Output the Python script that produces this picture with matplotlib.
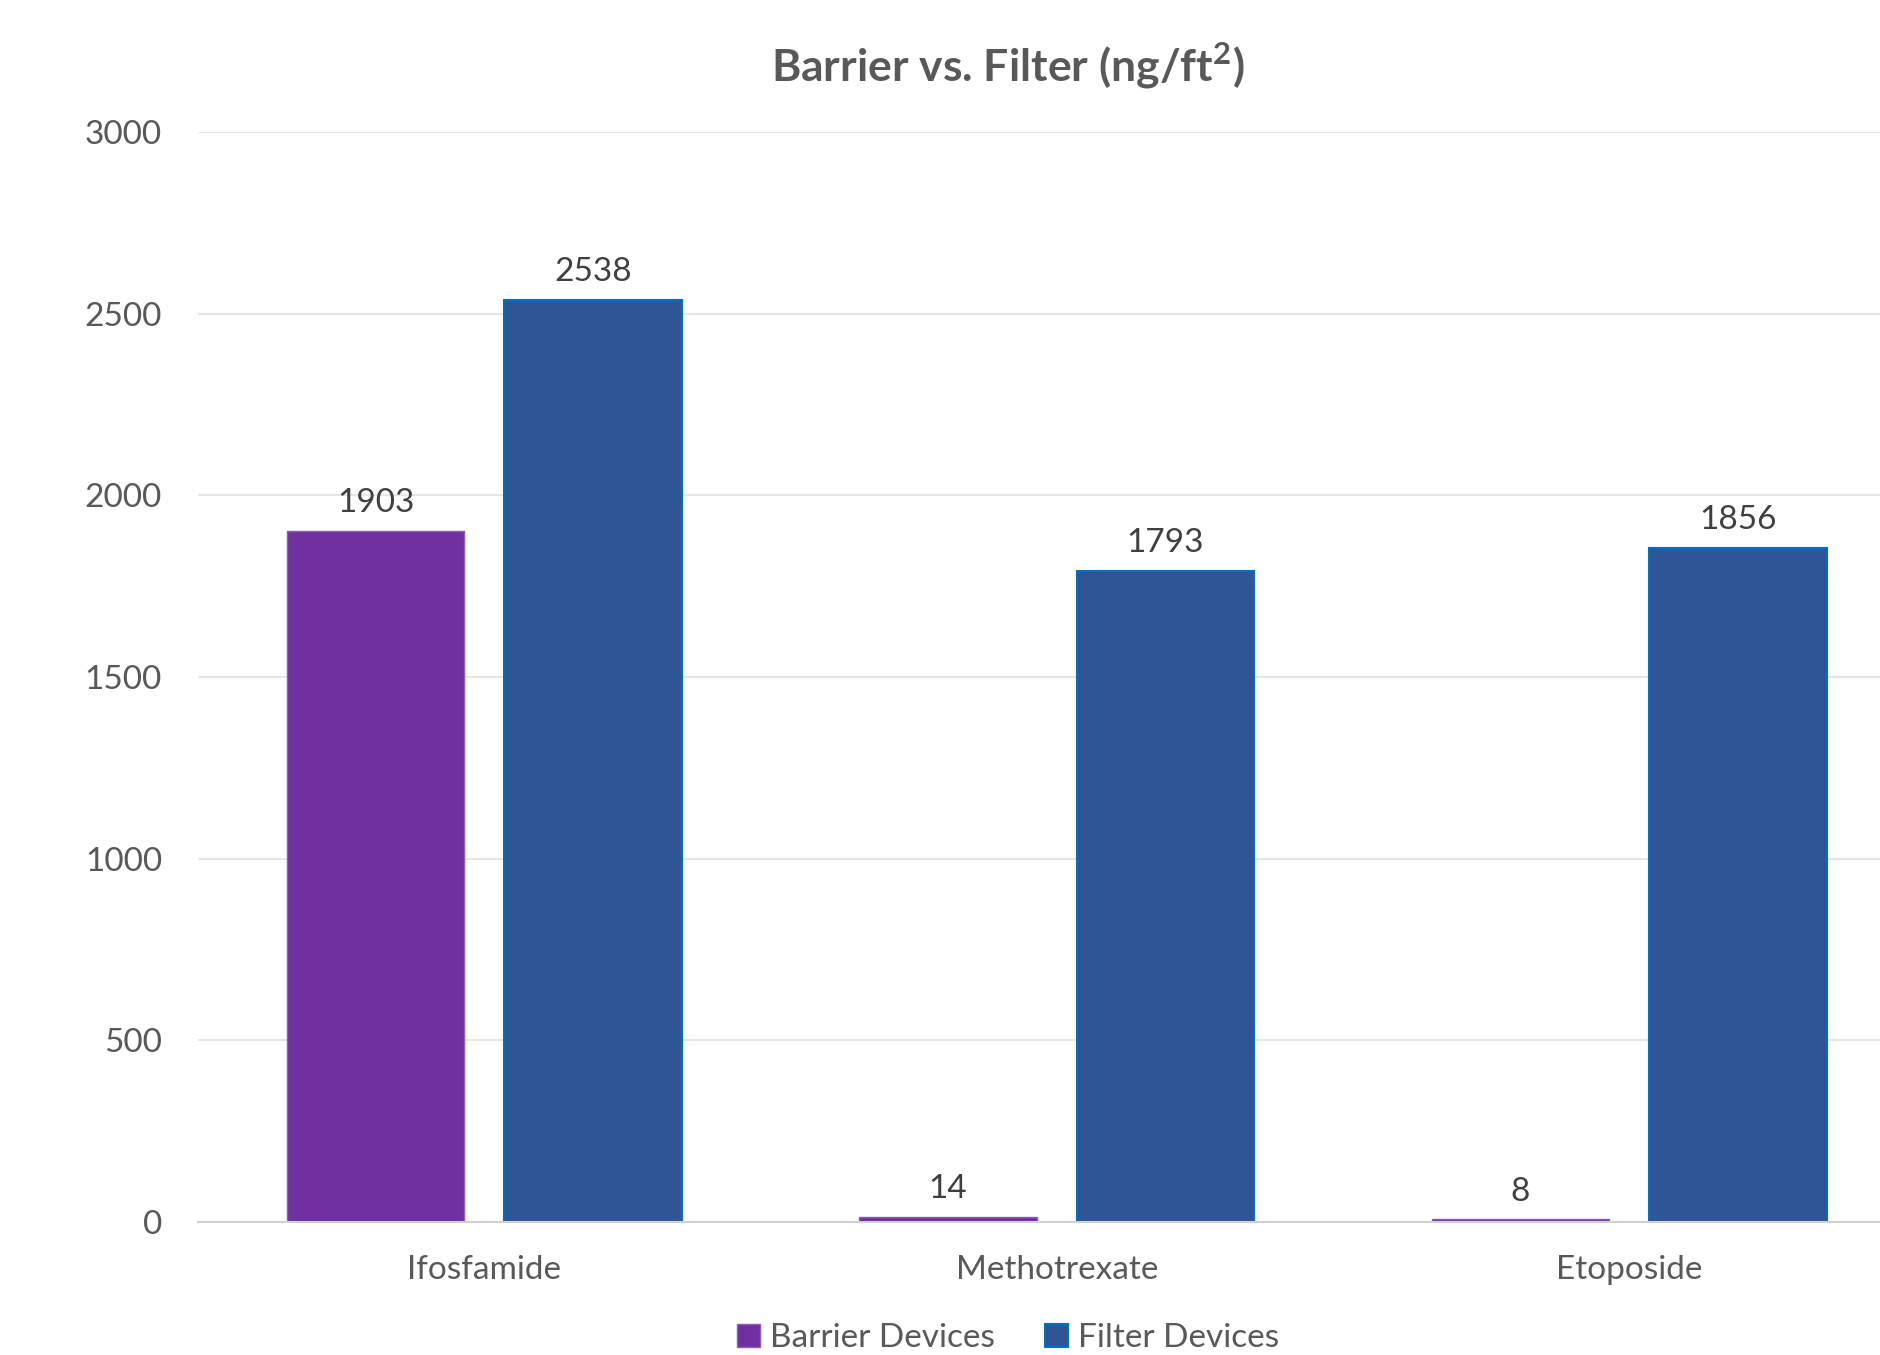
import numpy as np
import matplotlib.pyplot as plt

plt.rcParams['font.family'] = ['Lato', 'DejaVu Sans']

drugs = ['Ifosfamide', 'Methotrexate', 'Etoposide']
barrier = [1903, 14, 8]
filt = [2538, 1793, 1856]

purple = '#7030A0'
blue = '#2F5597'
gray = '#595959'

fig = plt.figure(figsize=(18.81, 13.55), dpi=100)
ax = fig.add_axes([0.1053, 0.0982, 0.8947, 0.8044])

x = np.arange(len(drugs))
w = 0.31
off = 0.19
b1 = ax.bar(x - off, barrier, w, color=purple, edgecolor='#8E5BB8', linewidth=1, zorder=3,
            label='Barrier Devices')
b2 = ax.bar(x + off, filt, w, color=blue, edgecolor='#0070C0', linewidth=1.5, zorder=3,
            label='Filter Devices')

for bars in (b1, b2):
    for r in bars:
        ax.annotate(str(int(r.get_height())), (r.get_x() + r.get_width() / 2, r.get_height()),
                    xytext=(0, 9), textcoords='offset points', ha='center', va='bottom',
                    fontsize=24, color='#404040')

ax.set_xlim(-0.5, 2.44)
ax.set_ylim(0, 3000)
ax.set_yticks(np.arange(0, 3001, 500))
ax.set_xticks(x)
ax.set_xticklabels(drugs)
ax.tick_params(axis='both', length=0, labelsize=24, colors=gray)
ax.tick_params(axis='y', pad=26)
ax.tick_params(axis='x', pad=24)
ax.grid(axis='y', color='#E6E6E6', linewidth=1.5, zorder=0)
for s in ['top', 'right', 'left']:
    ax.spines[s].set_visible(False)
ax.spines['bottom'].set_color('#D0D0D0')
ax.spines['bottom'].set_linewidth(1.5)
ax.spines['bottom'].set_zorder(4)

fig.text(0.536, 0.951, 'Barrier vs. Filter (ng/ft$^{\\mathregular{2}}$)', ha='center', va='center',
         fontsize=32, fontweight='bold', color=gray)

fig.legend(handles=[b1, b2], loc='center', bbox_to_anchor=(0.536, 0.0125), ncol=2,
           frameon=False, fontsize=24, handlelength=0.7, handleheight=0.7,
           handletextpad=0.3, columnspacing=1.5, labelcolor=gray)

fig.savefig('out.png', dpi=100)
